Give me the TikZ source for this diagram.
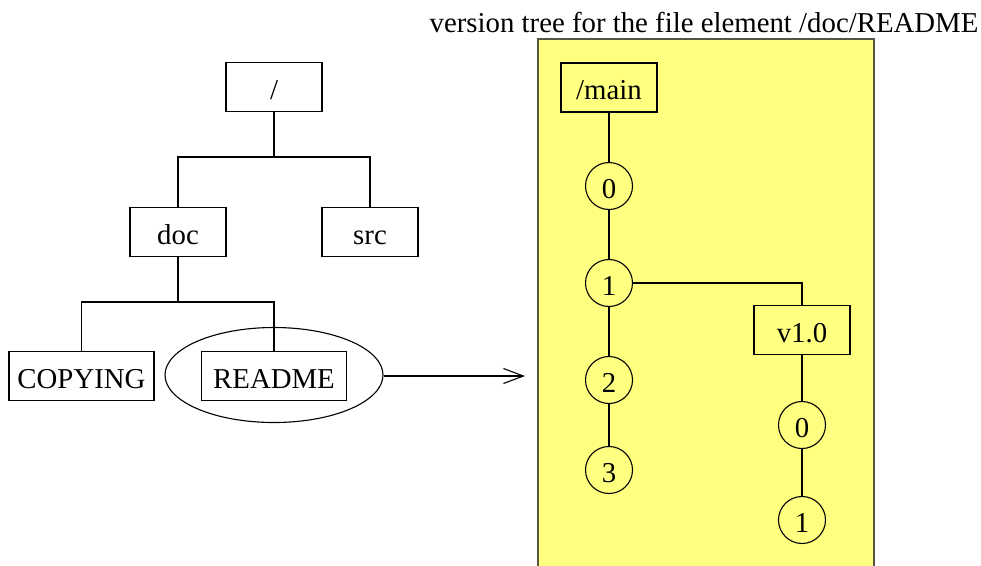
\documentclass[tikz,border=0pt]{standalone}
\usepackage{fontspec}
\setmainfont{Liberation Serif}
\usetikzlibrary{shapes.geometric,arrows.meta}
\definecolor{vyellow}{HTML}{FFFF80}
\definecolor{vborder}{HTML}{555544}
\begin{document}
\begin{tikzpicture}[x=1pt,y=-1pt,
  every node/.style={font=\fontsize{28.8}{34}\selectfont, inner sep=0pt},
  fbox/.style={draw, line width=1.1pt, minimum width=96, minimum height=49, text height=28pt, text depth=4pt},
  wbox/.style={fbox, minimum width=145},
  vcirc/.style={draw, circle, line width=1.1pt, minimum size=47, text height=28pt, text depth=4pt},
  conn/.style={line width=1.1pt}]
\clip (0,0) rectangle (981,565);
\fill[white] (0,0) rectangle (981,565);
% yellow area
\draw[fill=vyellow, draw=vborder, line width=1.3pt] (538,39) rectangle (874,600);
\node[anchor=base] (title) at (704,32) {version tree for the file element /doc/README};
% directory tree
\node[fbox] (root) at (274,87) {/};
\node[fbox] (doc) at (178,232) {doc};
\node[fbox] (src) at (370,232) {src};
\node[wbox] (copying) at (81.5,376) {COPYING};
\node[wbox] (readme) at (274,376) {README};
\node[draw, ellipse, line width=1.1pt, minimum width=218, minimum height=95] (ell) at (274,375) {};
\coordinate (j1) at (274,157);
\coordinate (j2) at (178,302);
\draw[conn] (root) -- (j1);
\draw[conn] (doc.north) |- (j1) -| (src.north);
\draw[conn] (doc) -- (j2);
\draw[conn] (copying.north) |- (j2) -| (readme.north);
\coordinate (tip) at (525,376);
\draw[conn, -{Straight Barb[length=20, width=15, line width=1.1pt]}] (ell.east |- tip) -- (tip);
% version tree
\node[fbox] (main) at (609,87.5) {/main};
\node[vcirc] (m0) at (609,186) {0};
\node[vcirc] (m1) at (609,283) {1};
\node[vcirc] (m2) at (609,380) {2};
\node[vcirc] (m3) at (609,470) {3};
\node[fbox] (v10) at (802,330) {v1.0};
\node[vcirc] (b0) at (802,425) {0};
\node[vcirc] (b1) at (802,520) {1};
\draw[conn] (main) -- (m0) -- (m1) -- (m2) -- (m3);
\draw[conn] (m1) -| (v10);
\draw[conn] (v10) -- (b0) -- (b1);
\end{tikzpicture}
\end{document}
